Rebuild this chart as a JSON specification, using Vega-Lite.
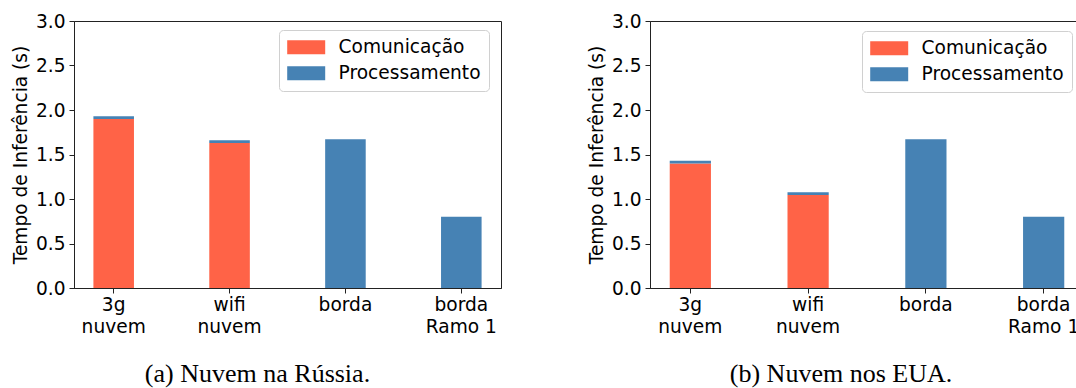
{
  "$schema": "https://vega.github.io/schema/vega-lite/v6.json",
  "background": "white",
  "padding": {"left": 10, "top": 11, "right": 0, "bottom": 0},
  "datasets": {
    "russia": [
      {"cenario": "3g nuvem", "parte": "Comunicação", "tempo": 1.90},
      {"cenario": "3g nuvem", "parte": "Processamento", "tempo": 0.03},
      {"cenario": "wifi nuvem", "parte": "Comunicação", "tempo": 1.63},
      {"cenario": "wifi nuvem", "parte": "Processamento", "tempo": 0.03},
      {"cenario": "borda", "parte": "Processamento", "tempo": 1.67},
      {"cenario": "borda Ramo 1", "parte": "Processamento", "tempo": 0.80}
    ],
    "eua": [
      {"cenario": "3g nuvem", "parte": "Comunicação", "tempo": 1.40},
      {"cenario": "3g nuvem", "parte": "Processamento", "tempo": 0.03},
      {"cenario": "wifi nuvem", "parte": "Comunicação", "tempo": 1.045},
      {"cenario": "wifi nuvem", "parte": "Processamento", "tempo": 0.03},
      {"cenario": "borda", "parte": "Processamento", "tempo": 1.67},
      {"cenario": "borda Ramo 1", "parte": "Processamento", "tempo": 0.80}
    ]
  },
  "config": {
    "font": "DejaVu Sans",
    "view": {"stroke": "#222222", "strokeWidth": 1},
    "axis": {
      "grid": false,
      "domainColor": "#222222",
      "tickColor": "#222222",
      "tickSize": 5,
      "labelColor": "black",
      "labelFont": "DejaVu Sans",
      "labelFontSize": 18.6,
      "titleFont": "DejaVu Sans",
      "titleFontSize": 18.6,
      "titleFontWeight": "normal",
      "titleColor": "black"
    },
    "legend": {
      "labelFont": "DejaVu Sans",
      "labelFontSize": 18.6,
      "labelColor": "black",
      "symbolType": "M-1.3,-1H4.1286V1H-1.3Z",
      "symbolSize": 196,
      "symbolStrokeWidth": 0,
      "labelOffset": 33,
      "rowPadding": 7,
      "padding": 8,
      "strokeColor": "#d0d0d0",
      "fillColor": "white",
      "cornerRadius": 4,
      "orient": "none"
    },
    "title": {
      "font": "Liberation Serif",
      "fontSize": 26,
      "fontWeight": "normal",
      "color": "black",
      "orient": "bottom",
      "anchor": "middle"
    }
  },
  "hconcat": [
    {
      "data": {"name": "russia"},
      "width": 427,
      "height": 267,
      "title": {"text": "(a) Nuvem na Rússia.", "dx": -30, "offset": 25},
      "mark": {"type": "bar"},
      "encoding": {
        "x": {
          "field": "cenario",
          "type": "nominal",
          "sort": ["3g nuvem", "wifi nuvem", "borda", "borda Ramo 1"],
          "scale": {"paddingInner": 0.65, "paddingOuter": 0.1675},
          "axis": {
            "title": null,
            "labelAngle": 0,
            "labelPadding": 2,
            "labelLineHeight": 22,
            "labelExpr": "indexof(datum.label, ' ') < 0 ? datum.label : [slice(datum.label, 0, indexof(datum.label, ' ')), slice(datum.label, indexof(datum.label, ' ') + 1)]"
          }
        },
        "y": {
          "field": "tempo",
          "type": "quantitative",
          "stack": "zero",
          "scale": {"domain": [0, 3], "nice": false},
          "axis": {
            "title": "Tempo de Inferência (s)",
            "values": [0, 0.5, 1, 1.5, 2, 2.5, 3],
            "format": ".1f",
            "labelPadding": 4,
            "titlePadding": 5
          }
        },
        "color": {
          "field": "parte",
          "type": "nominal",
          "scale": {"domain": ["Comunicação", "Processamento"], "range": ["#FF6347", "#4682B4"]},
          "legend": {"title": null, "legendX": 205, "legendY": 9}
        },
        "order": {"field": "parte", "sort": "ascending"}
      }
    },
    {
      "data": {"name": "eua"},
      "width": 434,
      "height": 267,
      "title": {"text": "(b) Nuvem nos EUA.", "dx": -26, "offset": 25},
      "mark": {"type": "bar"},
      "encoding": {
        "x": {
          "field": "cenario",
          "type": "nominal",
          "sort": ["3g nuvem", "wifi nuvem", "borda", "borda Ramo 1"],
          "scale": {"paddingInner": 0.65, "paddingOuter": 0.1675},
          "axis": {
            "title": null,
            "labelAngle": 0,
            "labelPadding": 2,
            "labelLineHeight": 22,
            "labelExpr": "indexof(datum.label, ' ') < 0 ? datum.label : [slice(datum.label, 0, indexof(datum.label, ' ')), slice(datum.label, indexof(datum.label, ' ') + 1)]"
          }
        },
        "y": {
          "field": "tempo",
          "type": "quantitative",
          "stack": "zero",
          "scale": {"domain": [0, 3], "nice": false},
          "axis": {
            "title": "Tempo de Inferência (s)",
            "values": [0, 0.5, 1, 1.5, 2, 2.5, 3],
            "format": ".1f",
            "labelPadding": 4,
            "titlePadding": 5
          }
        },
        "color": {
          "field": "parte",
          "type": "nominal",
          "scale": {"domain": ["Comunicação", "Processamento"], "range": ["#FF6347", "#4682B4"]},
          "legend": {"title": null, "legendX": 212, "legendY": 10}
        },
        "order": {"field": "parte", "sort": "ascending"}
      }
    }
  ],
  "spacing": 84,
  "resolve": {"scale": {"x": "independent", "y": "independent"}, "legend": {"color": "independent"}}
}
